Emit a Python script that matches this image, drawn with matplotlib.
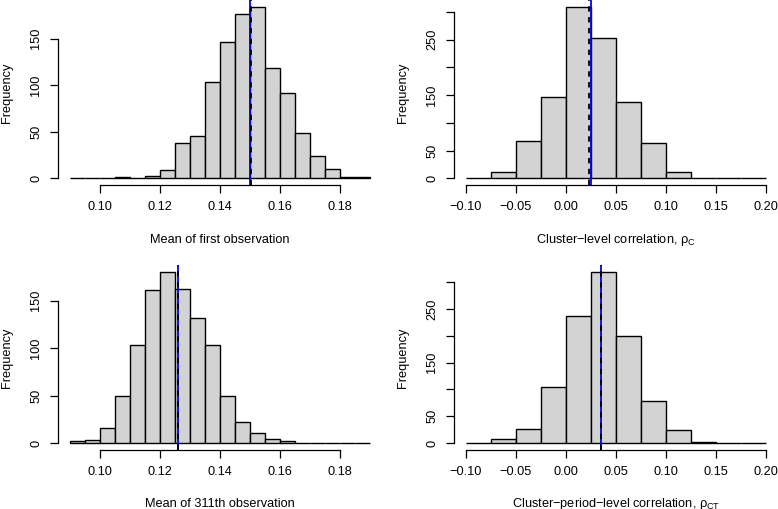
import numpy as np
import matplotlib.pyplot as plt

plt.rcParams['font.family'] = 'Liberation Sans'
plt.rcParams['mathtext.fontset'] = 'custom'
plt.rcParams['mathtext.rm'] = 'Liberation Sans'
plt.rcParams['mathtext.it'] = 'Liberation Sans:italic'

# --- data ---
mean_breaks = np.linspace(0.09, 0.19, 21)
first_obs_counts = [0, 0, 0, 1, 0, 2, 9, 38, 45, 103, 146, 177, 184, 118, 92, 49, 24, 10, 1, 1]
obs311_counts = [2, 3, 16, 50, 103, 161, 180, 162, 132, 103, 49, 22, 11, 4, 2, 0, 0, 0, 0, 0]

corr_breaks = np.linspace(-0.10, 0.20, 13)
rho_c_counts = [0, 12, 67, 146, 309, 253, 137, 64, 11, 1, 0, 0]
rho_ct_counts = [0, 8, 27, 105, 237, 319, 200, 79, 24, 1, 0, 0]

true_vals = [0.150, 0.025, 0.126, 0.035]
est_vals = [0.1502, 0.0236, 0.1259, 0.0348]

mean_ticks = [0.10, 0.12, 0.14, 0.16, 0.18]
mean_ticklabels = ['0.10', '0.12', '0.14', '0.16', '0.18']
corr_ticks = [-0.10, -0.05, 0.00, 0.05, 0.10, 0.15, 0.20]
corr_ticklabels = ['\u22120.10', '\u22120.05', '0.00', '0.05', '0.10', '0.15', '0.20']

mean_yticks = [0, 50, 100, 150]
mean_yticklabels = ['0', '50', '100', '150']
corr_yticks = [0, 50, 100, 150, 200, 250, 300]
corr_yticklabels = ['0', '50', '', '150', '', '250', '']

xlabels = ['Mean of first observation',
           'Cluster\u2212level correlation, \u03c1$_{\\mathrm{C}}$',
           'Mean of 311th observation',
           'Cluster\u2212period\u2212level correlation, \u03c1$_{\\mathrm{CT}}$']

W, H = 778, 509
FS = 9.2


def draw_panel(ax, breaks, counts, xticks, xticklabels, yticks, yticklabels,
               xlabel, true_val, est_val):
    ax.bar(breaks[:-1], counts, width=np.diff(breaks), align='edge',
           color='#D3D3D3', edgecolor='black', linewidth=1.0)
    ax.axvline(true_val, color='blue', lw=1.3)
    ax.axvline(est_val, color='black', lw=1.3, linestyle=(0, (3, 3)))

    lo, hi = breaks[0], breaks[-1]
    pad = 0.04 * (hi - lo)
    ax.set_xlim(lo - pad, hi + pad)
    ymax = max(counts)
    ax.set_ylim(-0.04 * ymax, 1.04 * ymax)

    for s in ['top', 'right']:
        ax.spines[s].set_visible(False)
    ax.spines['left'].set_bounds(yticks[0], yticks[-1])
    ax.spines['bottom'].set_bounds(xticks[0], xticks[-1])
    ax.spines['left'].set_linewidth(0.9)
    ax.spines['bottom'].set_linewidth(0.9)

    ax.set_xticks(xticks)
    ax.set_xticklabels(xticklabels)
    ax.set_yticks(yticks)
    ax.set_yticklabels(yticklabels, rotation=90, va='center')
    ax.tick_params(length=5.5, width=0.9, labelsize=FS, pad=6)

    ax.set_xlabel(xlabel, fontsize=FS)
    ax.xaxis.set_label_coords(0.5, -54.3 / 185)
    ax.xaxis.label.set_va('center')
    ax.set_ylabel('Frequency', fontsize=FS)
    ax.yaxis.set_label_coords(-51 / 324, 0.5)
    ax.yaxis.label.set_va('center')


fig = plt.figure(figsize=(W / 100, H / 100), dpi=100)

# axes boxes in pixels: left, top, width, height
boxes = [(58, 0.2, 324, 185), (454, 0.2, 323.7, 185),
         (58, 265.4, 324, 184.4), (454, 265.4, 323.7, 184.4)]
axes = [fig.add_axes([l / W, 1 - (t + h) / H, w / W, h / H]) for l, t, w, h in boxes]

draw_panel(axes[0], mean_breaks, first_obs_counts, mean_ticks, mean_ticklabels,
           mean_yticks, mean_yticklabels, xlabels[0], true_vals[0], est_vals[0])
draw_panel(axes[1], corr_breaks, rho_c_counts, corr_ticks, corr_ticklabels,
           corr_yticks, corr_yticklabels, xlabels[1], true_vals[1], est_vals[1])
draw_panel(axes[2], mean_breaks, obs311_counts, mean_ticks, mean_ticklabels,
           mean_yticks, mean_yticklabels, xlabels[2], true_vals[2], est_vals[2])
draw_panel(axes[3], corr_breaks, rho_ct_counts, corr_ticks, corr_ticklabels,
           corr_yticks, corr_yticklabels, xlabels[3], true_vals[3], est_vals[3])

fig.savefig('out.png', dpi=100)
